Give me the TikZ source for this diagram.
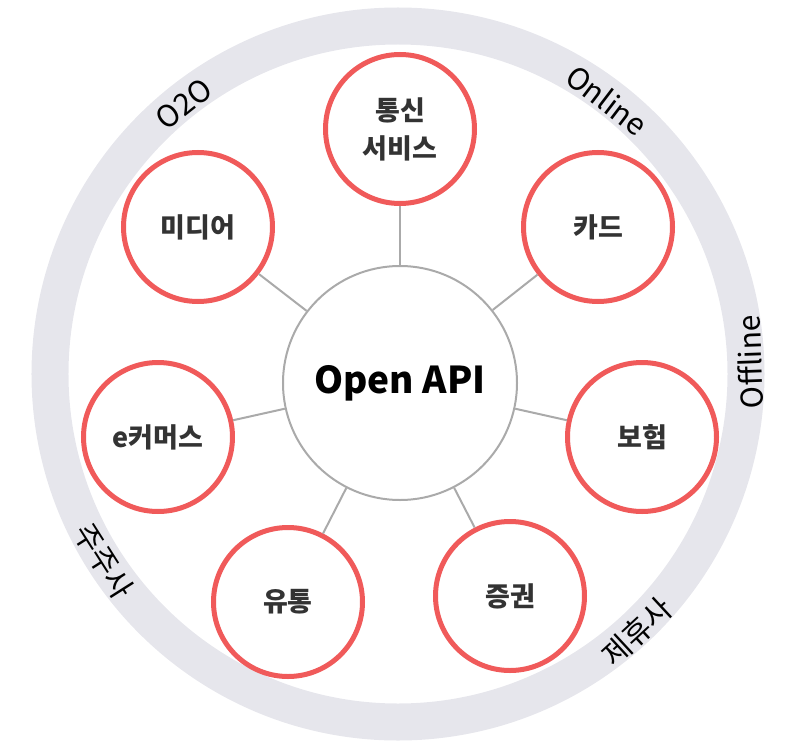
\documentclass[tikz,border=0pt]{standalone}
\usepackage{fontspec}
\setmainfont{Noto Sans CJK KR}
\usepackage{xcolor}
\usepackage{tikz}
\usetikzlibrary{positioning}
\definecolor{ringgray}{RGB}{230,230,236}
\definecolor{topicred}{RGB}{240,90,90}
\definecolor{linkgray}{RGB}{170,170,170}
\definecolor{textdark}{RGB}{51,51,51}

\begin{document}
\begin{tikzpicture}[
    x=1pt, y=1pt,
    hub/.style={draw=linkgray, line width=2pt, circle, fill=white, minimum size=234pt, inner sep=0pt, font=\fontsize{37}{44}\selectfont\bfseries},
    topic/.style={draw=topicred, line width=5pt, circle, fill=white, minimum size=149pt, inner sep=0pt, align=center, text=textdark, font=\fontsize{27}{38}\selectfont\bfseries},
    link/.style={draw=linkgray, line width=2pt},
    ringlabel/.style={font=\fontsize{30}{36}\selectfont, inner sep=0pt}
]
    \useasboundingbox (-398,-373) rectangle (388,374);

    % Outer ring
    \draw[ringgray, line width=37pt] (0,0) circle (348);

    % Central hub
    \node[hub] (api) at (2,-9) {Open API};

    % Topics around the hub
    \node[topic] (telecom) at (2,245) {통신\\서비스};
    \node[topic] (card) at (200,147) {카드};
    \node[topic] (insure) at (244,-63) {보험};
    \node[topic] (stock) at (112,-222) {증권};
    \node[topic] (retail) at (-110,-228) {유통};
    \node[topic] (ecom) at (-240,-63) {e커머스};
    \node[topic] (media) at (-200,147) {미디어};

    % Connections
    \draw[link] (api) -- (telecom);
    \draw[link] (api) -- (card);
    \draw[link] (api) -- (insure);
    \draw[link] (api) -- (stock);
    \draw[link] (api) -- (retail);
    \draw[link] (api) -- (ecom);
    \draw[link] (api) -- (media);

    % Ring labels
    \node[ringlabel, rotate=38.4] (o2o) at (-214,270) {O2O};
    \node[ringlabel, rotate=-37.4] (online) at (209,274) {Online};
    \node[ringlabel, rotate=92] (offline) at (352,12) {Offline};
    \node[ringlabel, rotate=-57.6] (holder) at (-294,-187) {주주사};
    \node[ringlabel, rotate=42.8] (partner) at (239,-258) {제휴사};
\end{tikzpicture}
\end{document}
